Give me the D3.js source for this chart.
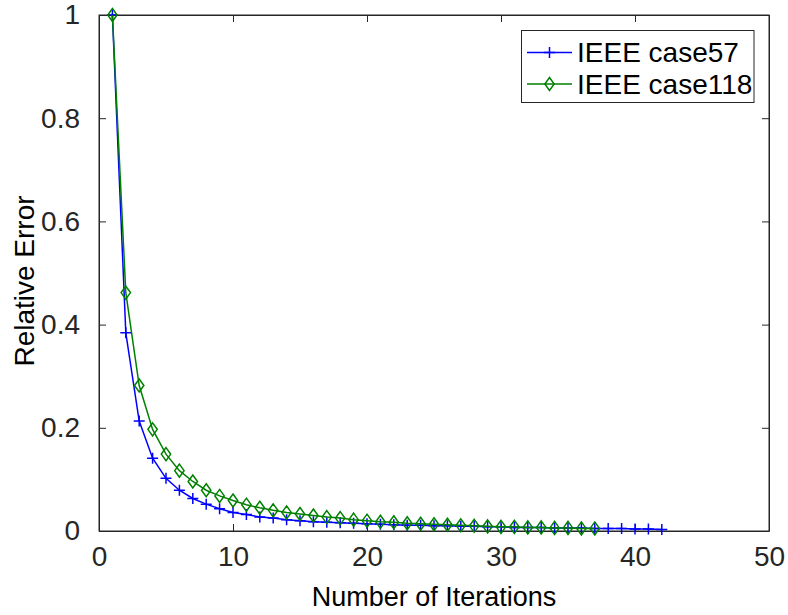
<!DOCTYPE html>
<html>
<head>
<meta charset="utf-8">
<script src="https://cdn.jsdelivr.net/npm/d3@7"></script>
<style>
  html, body { margin: 0; padding: 0; background: #fff; }
  svg { display: block; font-family: "Liberation Sans", Arial, Helvetica, sans-serif; }
</style>
</head>
<body>
<svg id="chart" width="788" height="615"></svg>
<script>
// ---- data ----
const seriesNames = ["IEEE case57", "IEEE case118"];
const case57 = [1, 0.384, 0.213, 0.141, 0.102, 0.079, 0.063, 0.052, 0.043, 0.036,
  0.032, 0.027, 0.025, 0.022, 0.020, 0.018, 0.017, 0.016, 0.015, 0.014,
  0.013, 0.012, 0.011, 0.011, 0.010, 0.010, 0.009, 0.009, 0.008, 0.008,
  0.007, 0.007, 0.007, 0.006, 0.006, 0.006, 0.005, 0.005, 0.005, 0.004,
  0.004, 0.003];
const case118 = [1, 0.462, 0.282, 0.197, 0.149, 0.117, 0.096, 0.079, 0.068, 0.059,
  0.051, 0.045, 0.040, 0.036, 0.033, 0.030, 0.027, 0.025, 0.022, 0.020,
  0.018, 0.017, 0.015, 0.014, 0.013, 0.012, 0.011, 0.010, 0.009, 0.008,
  0.008, 0.007, 0.007, 0.006, 0.006, 0.005, 0.005];
const xTicks = [0, 10, 20, 30, 40, 50];
const yTicks = [0, 0.2, 0.4, 0.6, 0.8, 1];
const xLabel = "Number of Iterations";
const yLabel = "Relative Error";

// ---- layout ----
const L = 99, R = 769, T = 15, B = 531;
const svg = d3.select("#chart");
const x = d3.scaleLinear().domain([0, 50]).range([L, R]);
const y = d3.scaleLinear().domain([0, 1]).range([B, T]);
const axisColor = "#262626";
const fontSize = 28;
const tickLen = 7;

// box
svg.append("rect").attr("x", L).attr("y", T).attr("width", R - L).attr("height", B - T)
  .attr("fill", "none").attr("stroke", axisColor).attr("stroke-width", 1);

// axes via d3 axes (inner ticks)
const xAxisB = d3.axisBottom(x).tickValues(xTicks).tickSizeInner(-tickLen).tickSizeOuter(0).tickPadding(15).tickFormat(d3.format("d"));
const gx = svg.append("g").attr("transform", `translate(0,${B})`).call(xAxisB);
const xAxisT = d3.axisTop(x).tickValues(xTicks).tickSizeInner(-tickLen).tickSizeOuter(0).tickFormat("");
const gxt = svg.append("g").attr("transform", `translate(0,${T})`).call(xAxisT);
const yAxisL = d3.axisLeft(y).tickValues(yTicks).tickSizeInner(-tickLen).tickSizeOuter(0).tickPadding(19).tickFormat(d => d === 0 || d === 1 ? String(d) : d3.format(".1f")(d));
const gy = svg.append("g").attr("transform", `translate(${L},0)`).call(yAxisL);
const yAxisR = d3.axisRight(y).tickValues(yTicks).tickSizeInner(-tickLen).tickSizeOuter(0).tickFormat("");
const gyr = svg.append("g").attr("transform", `translate(${R},0)`).call(yAxisR);

[gx, gxt, gy, gyr].forEach(g => {
  g.select(".domain").attr("stroke", axisColor);
  g.selectAll(".tick line").attr("stroke", axisColor);
  g.selectAll(".tick text").attr("fill", axisColor).attr("font-size", fontSize)
    .attr("font-family", "Liberation Sans, Arial, sans-serif");
});

// axis titles
svg.append("text").attr("x", (L + R) / 2).attr("y", 606).attr("text-anchor", "middle")
  .attr("font-size", 27).attr("fill", "#000").text(xLabel);
svg.append("text").attr("transform", `translate(34,${(T + B) / 2 + 8}) rotate(-90)`)
  .attr("text-anchor", "middle").attr("font-size", 28).attr("fill", "#000").text(yLabel);

// series
const series = [
  { name: seriesNames[0], values: case57, color: "#0000ff", marker: "plus" },
  { name: seriesNames[1], values: case118, color: "#008000", marker: "diamond" }
];
const line = d3.line().x((d, i) => x(i + 1)).y(d => y(d));

function drawMarker(g, cx, cy, type, color) {
  if (type === "plus") {
    const s = 5.5;
    g.append("path").attr("d", `M${cx - s},${cy}H${cx + s}M${cx},${cy - s}V${cy + s}`)
      .attr("stroke", color).attr("stroke-width", 1.5).attr("fill", "none");
  } else {
    const s = 6.5;
    g.append("path").attr("d", `M${cx},${cy - s}L${cx + s * 0.72},${cy}L${cx},${cy + s}L${cx - s * 0.72},${cy}Z`)
      .attr("stroke", color).attr("stroke-width", 1.5).attr("fill", "none");
  }
}

series.forEach(s => {
  const g = svg.append("g");
  g.append("path").datum(s.values).attr("d", line)
    .attr("fill", "none").attr("stroke", s.color).attr("stroke-width", 1.5);
  s.values.forEach((v, i) => drawMarker(g, x(i + 1), y(v), s.marker, s.color));
});

// legend
const lg = svg.append("g");
lg.append("rect").attr("x", 521.5).attr("y", 30.5).attr("width", 232.5).attr("height", 72)
  .attr("fill", "#fff").attr("stroke", axisColor).attr("stroke-width", 1);
series.forEach((s, i) => {
  const cy = 52.5 + i * 31.5;
  lg.append("line").attr("x1", 527).attr("x2", 572).attr("y1", cy).attr("y2", cy)
    .attr("stroke", s.color).attr("stroke-width", 1.5);
  drawMarker(lg, 549.5, cy, s.marker, s.color);
  lg.append("text").attr("x", 577).attr("y", cy).attr("dy", "0.35em")
    .attr("font-size", fontSize).attr("fill", "#000").text(s.name);
});
</script>
</body>
</html>
